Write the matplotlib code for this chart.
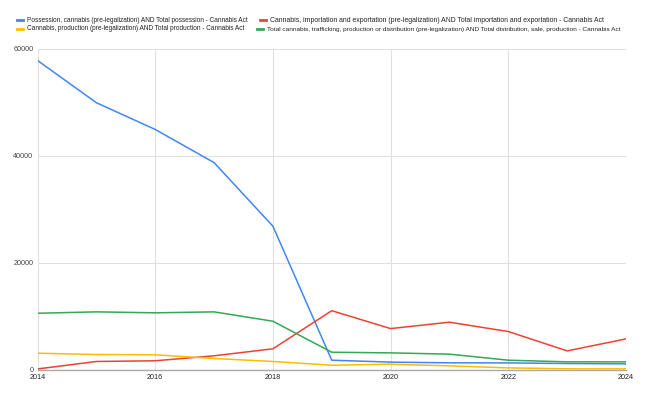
import numpy as np
import matplotlib.pyplot as plt
from matplotlib.lines import Line2D

plt.rcParams['font.family'] = ['Liberation Sans', 'DejaVu Sans']

years = np.arange(2014, 2025)

possession = [57800, 49900, 44900, 38700, 26800, 1740, 1380, 1250, 1230, 1120, 1060]
import_export = [100, 1500, 1630, 2560, 3870, 11000, 7650, 8850, 7100, 3480, 5720]
production = [3050, 2800, 2750, 2060, 1500, 800, 990, 680, 300, 130, 120]
trafficking = [10520, 10780, 10600, 10780, 9030, 3230, 3110, 2870, 1740, 1430, 1430]

series_labels = [
    'Possession, cannabis (pre-legalization) AND Total possession - Cannabis Act',
    'Cannabis, importation and exportation (pre-legalization) AND Total importation and exportation - Cannabis Act',
    'Cannabis, production (pre-legalization) AND Total production - Cannabis Act',
    'Total cannabis, trafficking, production or distribution (pre-legalization) AND Total distribution, sale, production - Cannabis Act',
]
colors = ['#4285F4', '#EA4335', '#FBBC04', '#34A853']
y_ticks = [0, 20000, 40000, 60000]
x_ticks = [2014, 2016, 2018, 2020, 2022, 2024]

fig = plt.figure(figsize=(6.46, 3.97), dpi=100)
ax = fig.add_axes([37.5 / 646, 27.5 / 397, (626 - 37.5) / 646, (369.5 - 48.7) / 397])

for values, color in zip([possession, import_export, production, trafficking], colors):
    ax.plot(years, values, color=color, linewidth=1.1, solid_joinstyle='round', zorder=3)

ax.set_xlim(2014, 2024)
ax.set_ylim(0, 60000)
ax.set_xticks(x_ticks)
ax.set_yticks(y_ticks)
ax.set_xticklabels([str(x) for x in x_ticks], fontsize=5.2, color='#222222')
ax.set_yticklabels([str(y) for y in y_ticks], fontsize=5.2, color='#444444')
ax.tick_params(length=0, pad=3)
ax.grid(True, color='#e0e0e0', linewidth=0.8, zorder=0)
for side in ['top', 'right', 'left']:
    ax.spines[side].set_visible(False)
ax.spines['bottom'].set_color('#aaaaaa')
ax.spines['bottom'].set_linewidth(1.0)

# legend, laid out like the Google chart (two rows, flowing)
# (marker x, row y, text end x) in pixels
legend_pos = [(16.7, 20, 250.7), (260, 20, 603), (16.7, 29, 246.7), (256.7, 29, 624)]
renderer = fig.canvas.get_renderer()
for (lx, ly, ex), label, color in zip(legend_pos, series_labels, colors):
    fx, fy = lx / 646, 1 - ly / 397
    fig.add_artist(Line2D([fx, fx + 6 / 646], [fy, fy], color=color, linewidth=2.0,
                          transform=fig.transFigure))
    t = fig.text(fx + 10.5 / 646, fy, label, fontsize=10, color='#222222',
                 va='center', ha='left')
    w = t.get_window_extent(renderer).width
    t.set_fontsize(10 * (ex - lx - 10.5) / w)

fig.savefig('out.png', dpi=100)
